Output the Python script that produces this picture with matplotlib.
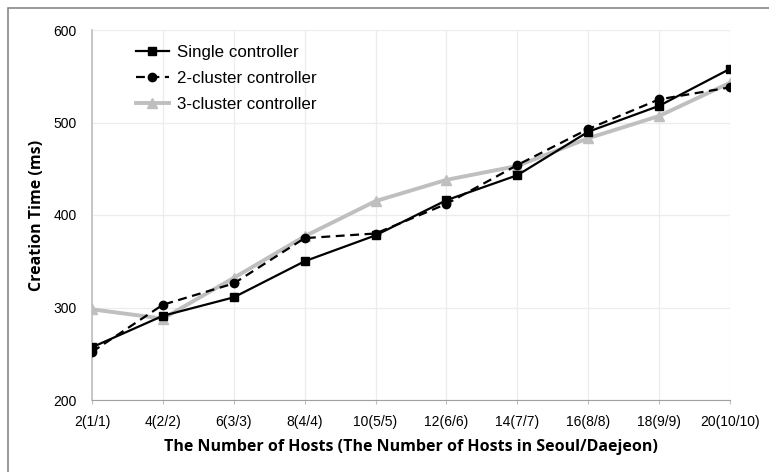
import matplotlib
matplotlib.use("Agg")
import matplotlib.pyplot as plt
from matplotlib.patches import Rectangle

categories = ["2(1/1)", "4(2/2)", "6(3/3)", "8(4/4)", "10(5/5)",
              "12(6/6)", "14(7/7)", "16(8/8)", "18(9/9)", "20(10/10)"]
single = [257, 291, 311, 350, 378, 416, 443, 490, 518, 558]
cluster2 = [252, 303, 326, 375, 380, 412, 454, 493, 525, 538]
cluster3 = [298, 288, 332, 377, 415, 438, 453, 483, 507, 543]
yticks = [200, 300, 400, 500, 600]

fig = plt.figure(figsize=(7.69, 4.72), dpi=100)
ax = fig.add_axes([92/769, 1-400/472, (730-92)/769, (400-30)/472])

x = list(range(len(categories)))
ax.plot(x, single, color="black", lw=1.6, marker="s", ms=5.5, label="Single controller", zorder=4)
ax.plot(x, cluster2, color="black", lw=1.6, ls=(0, (4, 2.5)), marker="o", ms=6, label="2-cluster controller", zorder=5)
ax.plot(x, cluster3, color="#bfbfbf", lw=2.8, marker="^", ms=7.5, label="3-cluster controller", zorder=3)

ax.set_xlim(0, len(categories)-1)
ax.set_ylim(200, 600)
ax.set_xticks(x)
ax.set_xticklabels(categories, family="Liberation Sans", fontsize=10)
ax.set_yticks(yticks)
ax.set_yticklabels([str(v) for v in yticks], family="Liberation Sans", fontsize=10)
ax.tick_params(axis="y", length=0, pad=11)
ax.tick_params(axis="x", length=3, color="#bfbfbf", pad=8)
ax.grid(True, color="#ececec", lw=0.9)
ax.set_axisbelow(True)
for s in ["top", "right"]:
    ax.spines[s].set_visible(False)
ax.spines["left"].set_color("#bfbfbf")
ax.spines["left"].set_linewidth(1.2)
ax.spines["bottom"].set_color("#a0a0a0")
ax.spines["bottom"].set_linestyle((0, (1, 1)))
ax.spines["bottom"].set_linewidth(0.8)

ax.set_ylabel("Creation Time (ms)", family="Open Sans", fontweight="bold", fontsize=11.5, labelpad=6)
ax.set_xlabel("The Number of Hosts (The Number of Hosts in Seoul/Daejeon)", family="Open Sans",
              fontweight="bold", fontsize=11.5, labelpad=7)

leg = ax.legend(loc="upper left", bbox_to_anchor=(0.045, 1.0), frameon=False,
                prop={"family": "Liberation Sans", "size": 12.2}, handlelength=1.95,
                handletextpad=0.45, labelspacing=0.65)

fig.patches.append(Rectangle((8/769, -0.1), 1.0, (472-8)/472 + 0.1, transform=fig.transFigure,
                             fill=False, edgecolor="#888888", lw=1.2))

fig.savefig("out.png", dpi=100)
